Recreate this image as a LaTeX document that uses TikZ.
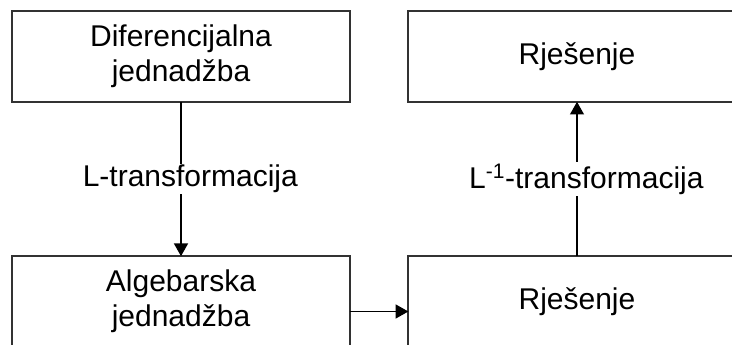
\documentclass[tikz,border=0pt]{standalone}
\usepackage{fontspec}
\setmainfont{Liberation Sans}
\usetikzlibrary{arrows.meta, positioning}

\definecolor{boxline}{RGB}{50,50,50}

\begin{document}
\begin{tikzpicture}[x=0.75pt, y=0.75pt,
  every node/.style={font=\fontsize{22.5}{26.5}\selectfont},
  stagebox/.style={draw=boxline, line width=1.4pt, inner sep=0pt, outer sep=0pt,
    minimum width=253pt, minimum height=68pt, align=center},
  flow/.style={draw=black, line width=0.9pt, -{Triangle[length=9.5pt, width=10.5pt]}},
  steplabel/.style={fill=white, inner sep=1pt, xshift=7pt}]

% Frame of the picture (boxes run past the edges)
\clip (0,0) rectangle (732,345);

% --- Left column ---
\node[stagebox] (dif) at (181,288.5) {Diferencijalna\\jednadžba};
\node[stagebox] (alg) at (181,43.5)  {Algebarska\\jednadžba};

% --- Right column ---
\node[stagebox] (rjtop) at (577,288.5) {Rješenje};
\node[stagebox] (rjbot) at (577,43.5)  {Rješenje};

% Transformations
\draw[flow] (dif.south) -- (alg.north)
  node[steplabel, midway] {L-transformacija};
\draw[flow] (rjbot.north) -- (rjtop.south)
  node[steplabel, midway] {L\textsuperscript{-1}-transformacija};

% Solving step
\draw[flow] ([yshift=-7.5pt]alg.east) -- ([yshift=-7.5pt]alg.east -| rjbot.west);

\end{tikzpicture}
\end{document}
